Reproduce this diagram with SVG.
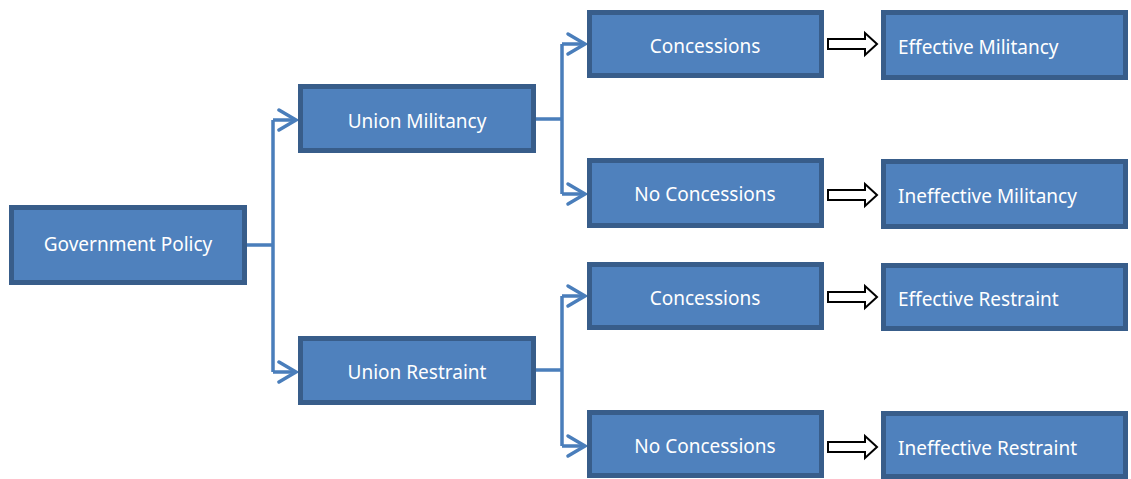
<svg xmlns="http://www.w3.org/2000/svg" width="1131" height="479" viewBox="0 0 1131 479">
<style>
.box{fill:#4F81BD;stroke:#385D8A;stroke-width:5}
.t{font-family:"Noto Sans","Open Sans",sans-serif;font-size:19px;fill:#FFFFFF;dominant-baseline:central}
.c{text-anchor:middle}
.conn{fill:none;stroke:#4A7EBB;stroke-width:3.5}
.head{fill:none;stroke:#4A7EBB;stroke-width:3.5;stroke-linecap:round;stroke-linejoin:miter}
.hollow{fill:#FFFFFF;stroke:#000000;stroke-width:2}
</style>
<rect width="1131" height="479" fill="#FFFFFF"/>
<g id="connectors">
<path class="conn" d="M247,245 H273 M273,120 V372 M273,120 H296 M273,372 H296"/>
<path class="head" d="M279,110 L296,120 L279,130 M279,362 L296,372 L279,382"/>
<path class="conn" d="M536,119 H562 M562,44 V194 M562,44 H585 M562,194 H585"/>
<path class="head" d="M568,34 L585,44 L568,54 M568,184 L585,194 L568,204"/>
<path class="conn" d="M536,370 H562 M562,296 V446 M562,296 H585 M562,446 H585"/>
<path class="head" d="M568,286 L585,296 L568,306 M568,436 L585,446 L568,456"/>
<path class="hollow" d="M828,39 H865 V33 L877,44 L865,55 V49 H828 Z"/>
<path class="hollow" d="M828,190 H865 V184 L877,195 L865,206 V200 H828 Z"/>
<path class="hollow" d="M828,292 H865 V286 L877,297 L865,308 V302 H828 Z"/>
<path class="hollow" d="M828,442 H865 V436 L877,447 L865,458 V452 H828 Z"/>
</g>
<g id="gov"><rect class="box" x="11.5" y="207.5" width="233" height="75"/><text class="t c" x="128" y="244">Government Policy</text></g>
<g id="militancy"><rect class="box" x="300.5" y="86.5" width="233" height="64"/><text class="t c" x="417" y="121">Union Militancy</text></g>
<g id="restraint"><rect class="box" x="300.5" y="338.5" width="233" height="64"/><text class="t c" x="417" y="372">Union Restraint</text></g>
<g id="conc1"><rect class="box" x="589.5" y="12.5" width="232" height="63"/><text class="t c" x="705" y="46">Concessions</text></g>
<g id="noconc1"><rect class="box" x="589.5" y="160.5" width="232" height="65"/><text class="t c" x="705" y="194">No Concessions</text></g>
<g id="conc2"><rect class="box" x="589.5" y="264.5" width="232" height="63"/><text class="t c" x="705" y="298">Concessions</text></g>
<g id="noconc2"><rect class="box" x="589.5" y="412.5" width="232" height="63"/><text class="t c" x="705" y="446">No Concessions</text></g>
<g id="effmil"><rect class="box" x="883.5" y="12.5" width="242" height="65"/><text class="t" x="898" y="47">Effective Militancy</text></g>
<g id="ineffmil"><rect class="box" x="883.5" y="161.5" width="242" height="65"/><text class="t" x="898" y="196">Ineffective Militancy</text></g>
<g id="effres"><rect class="box" x="883.5" y="265.5" width="242" height="63"/><text class="t" x="898" y="299">Effective Restraint</text></g>
<g id="ineffres"><rect class="box" x="883.5" y="413.5" width="242" height="63"/><text class="t" x="898" y="448">Ineffective Restraint</text></g>
</svg>
